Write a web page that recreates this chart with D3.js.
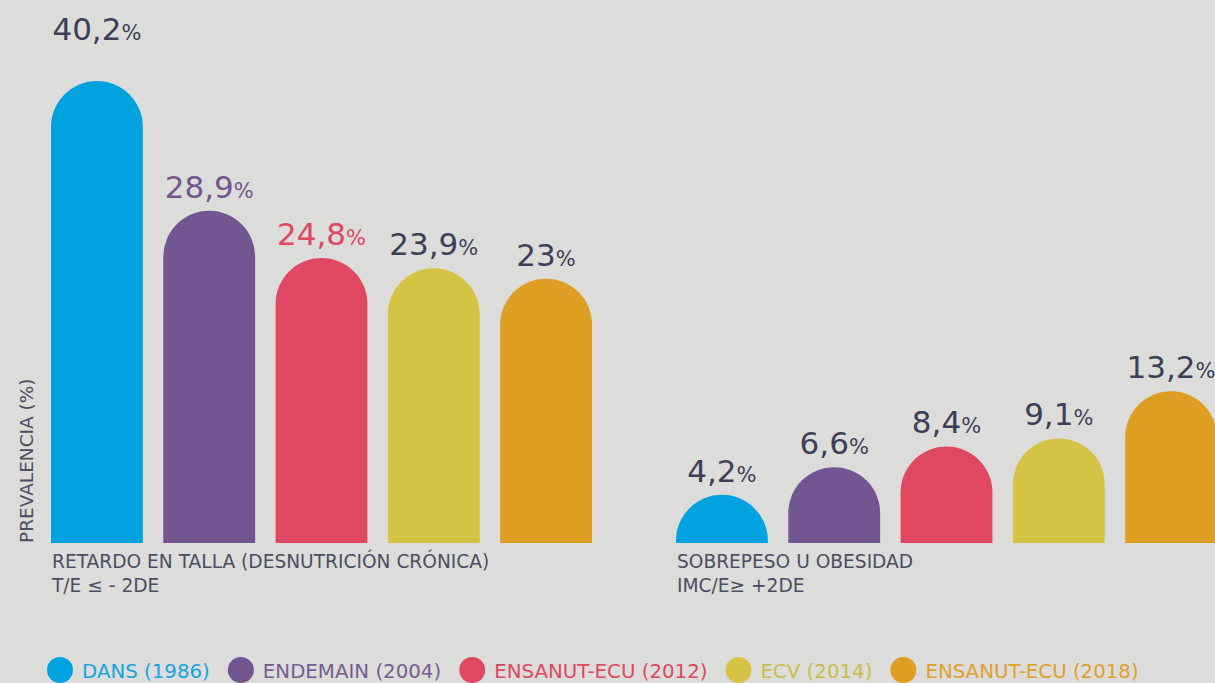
<!DOCTYPE html>
<html>
<head>
<meta charset="utf-8">
<script src="https://cdn.jsdelivr.net/npm/d3@7"></script>
<style>
  html, body { margin: 0; padding: 0; background: #dcdcda; overflow: hidden; }
  text { font-family: "DejaVu Sans", sans-serif; }
</style>
</head>
<body>
<svg id="chart"></svg>
<script>
// Prevalencia de retardo en talla y sobrepeso, por encuesta

var groups = ["RETARDO EN TALLA (DESNUTRICIÓN CRÓNICA)", "SOBREPESO U OBESIDAD"]
  , subtitles = ["T/E ≤ - 2DE", "IMC/E≥ +2DE"]
  , series = ["DANS (1986)", "ENDEMAIN (2004)", "ENSANUT-ECU (2012)", "ECV (2014)", "ENSANUT-ECU (2018)"]
  , stunting = [40.2, 28.9, 24.8, 23.9, 23]
  , overweight = [4.2, 6.6, 8.4, 9.1, 13.2]
  , axisLabel = "PREVALENCIA (%)"
  ;

var colors = ["#00a2df", "#735592", "#e04862", "#d4c344", "#dd9e22"]
  , legendText = ["#17a4de", "#785a95", "#e04862", "#c9bd48", "#dea12a"]
  , dark = "#3b3f58"
  , grey = "#4b4e62"
  ;

var width = 1215, height = 683
  , baseline = 543
  ;

var svg = d3.select("#chart")
            .attr("width", width)
            .attr("height", height);

svg.append("rect")
   .attr("width", width)
   .attr("height", height)
   .attr("fill", "#dcdcda");

var x0 = d3.scaleBand()
           .domain(groups)
           .range([51, 1217])
           .paddingInner(0.1344)
           .paddingOuter(0);

var x1 = d3.scaleBand()
           .domain(series)
           .range([0, x0.bandwidth()])
           .paddingInner(0.182)
           .paddingOuter(0);

var y = d3.scaleLinear()
          .domain([0, d3.max(stunting)])
          .range([baseline, 81]);

var rows = [];
[stunting, overweight].forEach(function (vals, g) {
  vals.forEach(function (v, i) {
    rows.push({ group: groups[g], g: g, s: series[i], i: i, v: v });
  });
});

// bar with a round top (half circle of the bar's width)
function barPath (x, w, top, bottom) {
  var r = w / 2, h = bottom - top;
  if (h >= r) {
    return "M" + x + "," + bottom +
           "L" + x + "," + (top + r) +
           "A" + r + "," + r + " 0 0 1 " + (x + w) + "," + (top + r) +
           "L" + (x + w) + "," + bottom + "Z";
  }
  return "M" + x + "," + bottom +
         "A" + r + "," + h + " 0 0 1 " + (x + w) + "," + bottom + "Z";
}

svg.append("g")
   .selectAll("path")
   .data(rows)
   .join("path")
   .attr("d", function (d) {
     return barPath(x0(d.group) + x1(d.s), x1.bandwidth(), y(d.v), y(0));
   })
   .attr("fill", function (d) { return colors[d.i]; });

// value labels
var maxV = d3.max(stunting);
var labels = svg.append("g")
   .selectAll("text")
   .data(rows)
   .join("text")
   .attr("x", function (d) { return x0(d.group) + x1(d.s) + x1.bandwidth() / 2; })
   .attr("y", function (d) { return y(d.v) - (d.v === maxV ? 41 : 13); })
   .attr("text-anchor", "middle")
   .attr("fill", function (d) {
     // two labels of the first group take the colour of their bar
     return (d.g === 0 && (d.i === 1 || d.i === 2)) ? colors[d.i] : dark;
   });

labels.append("tspan")
      .style("font-size", "31px")
      .text(function (d) { return String(d.v).replace(".", ","); });
labels.append("tspan")
      .style("font-size", "21px")
      .text("%");

// category labels under each group
var cats = svg.append("g")
   .selectAll("text")
   .data(groups)
   .join("text")
   .attr("x", function (d) { return x0(d) + 1; })
   .attr("y", 568)
   .attr("fill", grey)
   .style("font-size", "18.6px");

cats.append("tspan").text(function (d) { return d; });
cats.append("tspan")
    .attr("x", function (d) { return x0(d) + 1; })
    .attr("dy", 24)
    .text(function (d, i) { return subtitles[i]; });

// y axis title
svg.append("text")
   .attr("transform", "translate(33," + baseline + ") rotate(-90)")
   .attr("fill", grey)
   .style("font-size", "18.5px")
   .text(axisLabel);

// legend, laid out left to right from the text widths
var legend = svg.append("g");
var cx = 60;
series.forEach(function (s, i) {
  legend.append("circle")
        .attr("cx", cx)
        .attr("cy", 670)
        .attr("r", 13)
        .attr("fill", colors[i]);
  var t = legend.append("text")
        .attr("x", cx + 22)
        .attr("y", 678)
        .attr("fill", legendText[i])
        .style("font-size", "19.8px")
        .text(s);
  cx = cx + 22 + t.node().getComputedTextLength() + 31;
});
</script>
</body>
</html>
